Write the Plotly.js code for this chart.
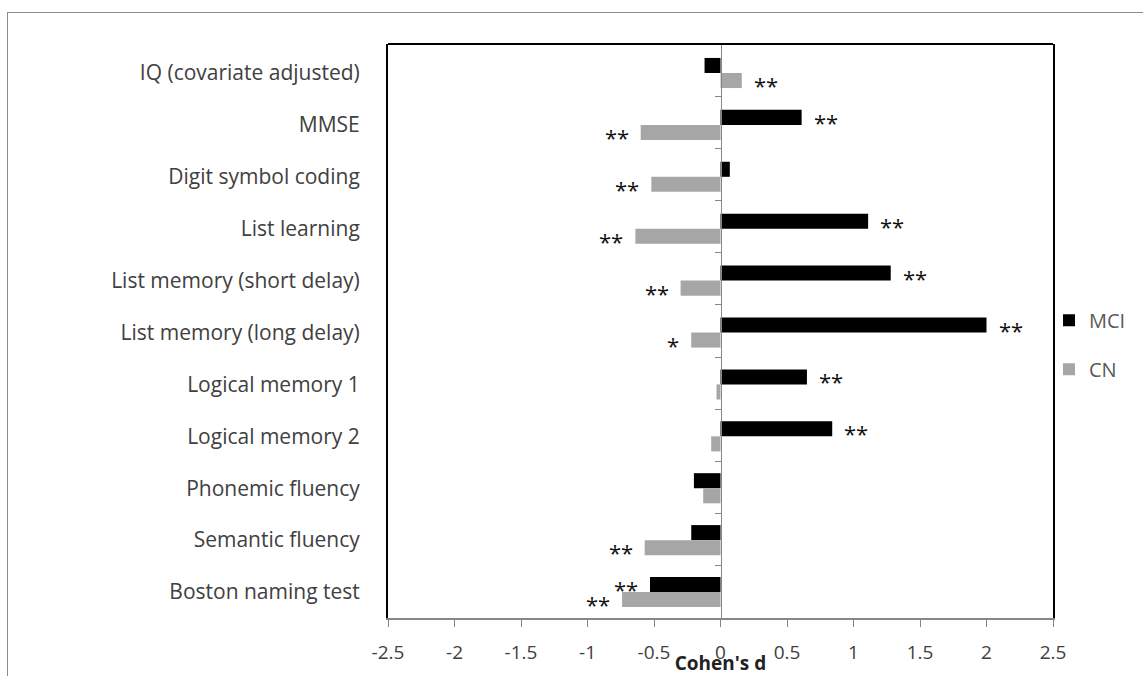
<!DOCTYPE html>
<html>
<head>
<meta charset="utf-8">
<script src="https://cdn.plot.ly/plotly-3.0.1.min.js"></script>
<style>
  html, body { margin: 0; padding: 0; background: #fff; overflow: hidden; }
  #frame { position: absolute; left: 7px; top: 12px; width: 1200px; height: 700px; border: 1px solid #8a8a8a; box-sizing: border-box; }
  #chart { position: absolute; left: 0; top: 0; width: 1143px; height: 676px; }
</style>
</head>
<body>
<div id="frame"></div>
<div id="chart"></div>
<script>
// ---- Data ----
const categories = [
  "IQ (covariate adjusted)",
  "MMSE",
  "Digit symbol coding",
  "List learning",
  "List memory (short delay)",
  "List memory (long delay)",
  "Logical memory 1",
  "Logical memory 2",
  "Phonemic fluency",
  "Semantic fluency",
  "Boston naming test"
];
const mciValues = [-0.12, 0.61, 0.07, 1.11, 1.28, 2.00, 0.65, 0.84, -0.20, -0.22, -0.53];
const cnValues  = [0.16, -0.60, -0.52, -0.64, -0.30, -0.22, -0.03, -0.07, -0.13, -0.57, -0.74];
const sigMCI = ["", "**", "", "**", "**", "**", "**", "**", "", "", "**"];
const sigCN  = ["**", "**", "**", "**", "**", "*", "", "", "", "**", "**"];
const xTickVals = [-2.5, -2, -1.5, -1, -0.5, 0, 0.5, 1, 1.5, 2, 2.5];
const xTickText = ["-2.5", "-2", "-1.5", "-1", "-0.5", "0", "0.5", "1", "1.5", "2", "2.5"];
const xRange = [-2.5, 2.5];

const FONT = "Open Sans, Lato, sans-serif";
const TXT = "#404040";

const traces = [
  { type: "bar", orientation: "h", name: "MCI", y: categories, x: mciValues,
    marker: { color: "#000000" }, legendgroup: "a", hoverinfo: "x+y" },
  { type: "bar", orientation: "h", name: "CN", y: categories, x: cnValues,
    marker: { color: "#a6a6a6" }, legendgroup: "b", hoverinfo: "x+y" }
];

const annotations = [];
function addSig(vals, sigs, barShift) {
  for (let i = 0; i < categories.length; i++) {
    if (!sigs[i]) continue;
    const v = vals[i];
    annotations.push({
      x: v, y: categories[i], xref: "x", yref: "y",
      text: sigs[i], showarrow: false,
      xanchor: v >= 0 ? "left" : "right",
      xshift: v >= 0 ? 10 : -10,
      yshift: barShift,
      font: { family: FONT, size: 22, color: "#111" }
    });
  }
}
addSig(mciValues, sigMCI, 3);
addSig(cnValues, sigCN, -12);

const zeroPos = (0 - xRange[0]) / (xRange[1] - xRange[0]);

const layout = {
  width: 1143, height: 676,
  margin: { l: 388, r: 86, t: 44, b: 58 },
  paper_bgcolor: "rgba(0,0,0,0)", plot_bgcolor: "#fff",
  font: { family: FONT, color: TXT, size: 20 },
  barmode: "group", bargap: 0.42, bargroupgap: 0,
  showlegend: true,
  legend: { x: 0.994, xanchor: "left", y: 0.476, yanchor: "middle",
            traceorder: "grouped", tracegroupgap: 20,
            font: { family: FONT, size: 20, color: "#595959" },
            bgcolor: "rgba(0,0,0,0)" },
  xaxis: {
    range: xRange, tickmode: "array", tickvals: xTickVals, ticktext: xTickText,
    ticks: "outside", ticklen: 7, tickcolor: "#868686", tickwidth: 1,
    showline: true, linecolor: "#868686", linewidth: 1.5,
    showgrid: false, zeroline: false, ticklabelstandoff: 10,
    tickfont: { family: FONT, size: 19, color: TXT },
    title: { text: "<b>Cohen's d</b>", standoff: 0, font: { family: FONT, size: 19, color: "#222" } },
    automargin: false, fixedrange: true
  },
  yaxis: {
    type: "category", categoryorder: "array", categoryarray: categories,
    autorange: "reversed", showgrid: false, zeroline: false,
    showline: true, linecolor: "#000", linewidth: 2, mirror: true,
    ticks: "", ticklabelstandoff: 22,
    tickfont: { family: FONT, size: 21, color: TXT },
    automargin: false, fixedrange: true
  },
  yaxis2: {
    overlaying: "y", anchor: "free", position: zeroPos,
    range: [categories.length, 0], tickmode: "linear", tick0: 0, dtick: 1,
    ticks: "outside", ticklen: 6, tickcolor: "#868686",
    showline: true, linecolor: "#868686", linewidth: 1.5,
    showticklabels: false, showgrid: false, zeroline: false, fixedrange: true
  },
  shapes: [
    { type: "line", xref: "paper", yref: "paper", x0: 0, x1: 1, y0: 1, y1: 1,
      line: { color: "#000", width: 2 } }
  ],
  annotations: annotations
};

// invisible helper trace so the overlay axis at x = 0 is drawn
traces.push({ type: "scatter", x: [0], y: [0], yaxis: "y2", mode: "markers",
  marker: { opacity: 0 }, showlegend: false, hoverinfo: "skip" });

Plotly.newPlot("chart", traces, layout, { displayModeBar: false, staticPlot: true });
</script>
</body>
</html>
